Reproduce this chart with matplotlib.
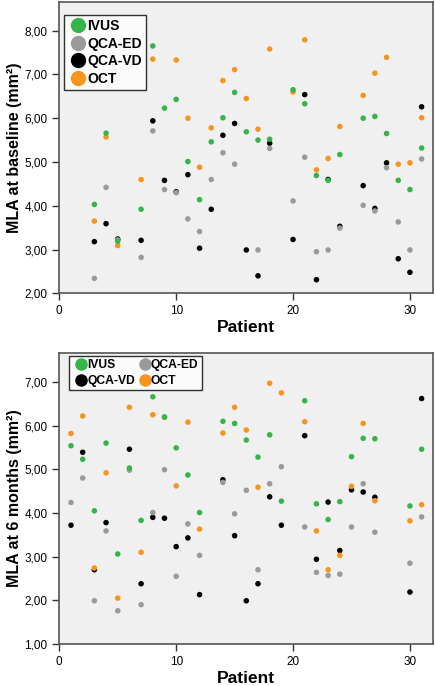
import numpy as np
import matplotlib
matplotlib.use("Agg")
import matplotlib.pyplot as plt
from matplotlib.lines import Line2D
from matplotlib.ticker import FuncFormatter

nan = np.nan
patients = list(range(1, 32))

# Baseline MLA (mm²), patients 1..31 (NaN = not available)
base_ivus = [nan, nan, 4.03, 5.66, 3.19, nan, 3.92, 7.65, 6.23, 6.43, 5.01, 4.14, 5.46, 6.01, 6.59,
             5.69, 5.50, 5.52, nan, 6.65, 6.33, 4.69, 4.58, 5.17, nan, 6.00, 6.04, 5.65, 4.58, 4.37, 5.32]
base_qcaed = [nan, nan, 2.34, 4.42, 3.22, nan, 2.82, 5.71, 4.37, 4.30, 3.70, 3.41, 4.60, 5.21, 4.95,
              nan, 2.99, 5.31, nan, 4.11, 5.11, 2.95, 2.99, 3.49, nan, 4.01, 3.88, 4.87, 3.63, 2.99, 5.07]
base_qcavd = [nan, nan, 3.18, 3.59, 3.24, nan, 3.21, 5.94, 4.58, 4.32, 4.71, 3.03, 3.92, 5.61, 5.88,
              2.99, 2.40, 5.43, nan, 3.23, 6.54, 2.31, 4.60, 3.53, nan, 4.46, 3.94, 4.98, 2.79, 2.48, 6.26]
base_oct = [nan, nan, 3.65, 5.57, 3.09, nan, 4.60, 7.35, nan, 7.33, 6.00, 4.88, 5.78, 6.86, 7.11,
            6.45, 5.75, 7.58, nan, 6.60, 7.79, 4.82, 5.08, 5.81, nan, 6.52, 7.03, 7.39, 4.95, 4.98, 6.01]

# 6-month MLA (mm²)
m6_ivus = [5.54, 5.23, 4.05, 5.60, 3.06, 5.03, 3.83, 6.66, 6.20, 5.49, 4.87, 4.01, nan, 6.10, 6.05,
           5.67, 5.28, 5.79, 4.27, nan, 6.57, 4.21, 3.85, 4.26, 5.29, 5.71, 5.70, nan, nan, 4.16, 5.46]
m6_qcaed = [4.24, 4.80, 1.99, 3.59, 1.76, 4.98, 1.90, 4.01, 4.99, 2.55, 3.75, 3.03, nan, 4.70, 3.98,
            4.52, 2.70, 4.67, 5.06, nan, 3.68, 2.64, 2.57, 2.60, 3.68, 4.67, 3.56, nan, nan, 2.85, 3.91]
m6_qcavd = [3.72, 5.39, 2.70, 3.78, nan, 5.46, 2.38, 3.90, 3.88, 3.23, 3.43, 2.13, nan, 4.76, 3.48,
            1.99, 2.38, 4.37, 3.72, nan, 5.77, 2.94, 4.25, 3.14, 4.53, 4.48, 4.36, nan, nan, 2.19, 6.62]
m6_oct = [5.82, 6.22, 2.74, 4.92, 2.05, 6.42, 3.10, 6.25, 6.19, 4.62, 6.08, 3.63, nan, 5.83, 6.42,
          5.90, 4.59, 6.97, 6.75, nan, 6.09, 3.59, 2.70, 3.03, 4.61, 6.05, 4.28, nan, nan, 3.82, 4.19]

series_names = ["IVUS", "QCA-ED", "QCA-VD", "OCT"]
colors = {"IVUS": "#35b44a", "QCA-ED": "#9a9a9a", "QCA-VD": "#000000", "OCT": "#f7941d"}

plt.rcParams['font.family'] = ['Liberation Sans', 'DejaVu Sans']

W, H = 436, 686
fig = plt.figure(figsize=(W / 100, H / 100), dpi=100)
bg = "#f0f0f0"

def make_axes(top_px, bottom_px):
    left, right = 59.3, 433.3
    return fig.add_axes([left / W, (H - bottom_px) / H, (right - left) / W, (bottom_px - top_px) / H])

fmt = FuncFormatter(lambda v, p: f"{v:.2f}".replace(".", ","))

def style(ax, ylim, yticks, ylabel):
    ax.set_facecolor(bg)
    ax.set_xlim(0, 32)
    ax.set_ylim(*ylim)
    ax.set_xticks([0, 10, 20, 30])
    ax.set_yticks(yticks)
    ax.yaxis.set_major_formatter(fmt)
    ax.tick_params(direction='out', length=5, width=1, labelsize=8.5, color='#333333')
    for s in ax.spines.values():
        s.set_color('#555555')
        s.set_linewidth(1.2)
    ax.set_xlabel("Patient", fontsize=12.5, fontweight='bold', labelpad=2)
    ax.set_ylabel(ylabel, fontsize=11.5, fontweight='bold')
    ax.yaxis.set_label_coords(-0.1, 0.5)

def plot_series(ax, data):
    order = ["QCA-VD", "QCA-ED", "OCT", "IVUS"]
    for name in order:
        ax.scatter(patients, data[name], s=16, color=colors[name], edgecolors='none', zorder=3)

# Top panel
ax1 = make_axes(2, 293.3)
plot_series(ax1, {"IVUS": base_ivus, "QCA-ED": base_qcaed, "QCA-VD": base_qcavd, "OCT": base_oct})
style(ax1, (2, 8.655), [2, 3, 4, 5, 6, 7, 8], "MLA at baseline (mm²)")
h1 = [Line2D([], [], ls='none', marker='o', ms=10, color=colors[n]) for n in series_names]
leg1 = ax1.legend(h1, series_names, loc='upper left', bbox_to_anchor=(0.012, 0.955), ncol=1,
                  frameon=True, fancybox=False, edgecolor='black', facecolor='white',
                  prop={'weight': 'bold', 'size': 10}, handletextpad=-0.1, handlelength=1.5,
                  borderpad=0.3, labelspacing=0.25, borderaxespad=0)
leg1.get_frame().set_linewidth(1.0)

# Bottom panel
ax2 = make_axes(352.7, 644)
plot_series(ax2, {"IVUS": m6_ivus, "QCA-ED": m6_qcaed, "QCA-VD": m6_qcavd, "OCT": m6_oct})
style(ax2, (1, 7.67), [1, 2, 3, 4, 5, 6, 7], "MLA at 6 months (mm²)")
h2 = [Line2D([], [], ls='none', marker='o', ms=8, color=colors[n]) for n in series_names]
leg2 = ax2.legend([h2[0], h2[2], h2[1], h2[3]], ["IVUS", "QCA-VD", "QCA-ED", "OCT"],
                  loc='upper left', bbox_to_anchor=(0.027, 0.99), ncol=2,
                  frameon=True, fancybox=False, edgecolor='black', facecolor='white',
                  prop={'weight': 'bold', 'size': 8.7}, handletextpad=-0.2, handlelength=1.4,
                  borderpad=0.3, labelspacing=0.3, columnspacing=0.1, borderaxespad=0)
leg2.get_frame().set_linewidth(1.0)

fig.savefig("out.png", dpi=100)
